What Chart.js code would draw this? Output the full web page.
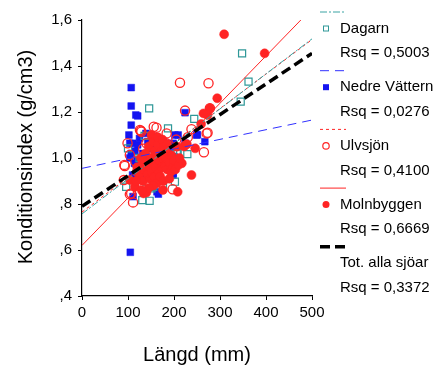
<!DOCTYPE html>
<html>
<head>
<meta charset="utf-8">
<script src="https://cdn.jsdelivr.net/npm/chart.js@4"></script>
<style>
  body { margin: 0; background: #fff; }
  canvas { display: block; }
</style>
</head>
<body>
<canvas id="chart" width="436" height="367"></canvas>
<script>
// Längd (mm) och konditionsindex per sjö
const dagarn = [
  [348, 1.455], [362, 1.332], [345, 1.245], [244, 1.170], [146, 1.216], [187, 1.129],
  [208, 1.02], [229, 1.017], [131, 0.817], [147, 0.814], [100, 1.042], [136, 1.096],
  [176, 0.883], [155, 0.875], [202, 0.897], [198, 1.02], [140, 0.897], [151, 0.868],
  [96, 0.875], [206, 1.02], [160, 0.93], [170, 0.96], [125, 1.0], [185, 0.99]
];
const nedreVattern = [
  [107, 1.306], [107, 1.226], [117, 1.187], [121, 1.183], [107, 1.143], [102, 1.10],
  [104, 1.064], [105, 0.59], [224, 1.197], [251, 1.101], [267, 1.071], [202, 1.10],
  [200, 1.006], [198, 0.926], [166, 0.843], [111, 0.832], [182, 1.064], [158, 1.093],
  [110, 1.064], [107, 1.02], [114, 0.977], [110, 0.926], [121, 1.057], [143, 1.071],
  [139, 1.107], [132, 1.02], [179, 0.97], [163, 0.853], [198, 1.064], [209, 1.10],
  [249, 1.10], [224, 1.064], [198, 0.933], [120, 0.99], [150, 1.04], [130, 0.95],
  [115, 1.03], [125, 1.085], [145, 1.0], [165, 1.02], [190, 1.04], [118, 0.905],
  [104, 1.0], [135, 0.93]
];
const ulvsjon = [
  [213, 1.327], [275, 1.325], [224, 1.206], [273, 1.110], [265, 1.025], [197, 0.864],
  [111, 0.807], [104, 0.842], [91, 0.904], [93, 0.965], [104, 1.013], [126, 1.122],
  [156, 1.136], [162, 1.132], [238, 1.125], [140, 1.064], [144, 0.897], [184, 1.107],
  [271, 1.107], [278, 1.216], [129, 1.114], [128, 1.119], [99, 1.064], [92, 0.970],
  [107, 0.846], [183, 1.064], [139, 0.919], [116, 0.985], [150, 1.05], [170, 1.04],
  [133, 1.04], [160, 0.96], [120, 0.94], [145, 0.97], [175, 0.99], [205, 1.08], [230, 1.09]
];
const molnbyggen = [
  [309, 1.538], [397, 1.455], [294, 1.26], [278, 1.216], [273, 1.187], [259, 1.148],
  [264, 1.194], [246, 1.042], [238, 0.926], [217, 0.977], [208, 0.853], [176, 0.861],
  [134, 0.846], [140, 0.85], [115, 0.875], [104, 0.904], [206, 1.049], [151, 1.10],
  [222, 1.05], [228, 1.06], [120, 0.96], [125, 0.93], [128, 1.0], [130, 0.97],
  [133, 0.9], [135, 0.95], [138, 1.02], [140, 0.98], [142, 0.93], [145, 1.05],
  [147, 0.96], [148, 0.91], [150, 1.0], [152, 0.94], [155, 1.07], [155, 0.98],
  [157, 0.92], [158, 1.03], [160, 0.96], [162, 1.0], [163, 0.89], [165, 1.06],
  [166, 0.94], [168, 0.99], [170, 0.92], [172, 1.03], [173, 0.96], [175, 1.0],
  [177, 0.9], [178, 1.05], [180, 0.97], [182, 1.0], [185, 0.95], [187, 1.02],
  [190, 0.98], [193, 0.94], [195, 1.01], [198, 0.96], [200, 0.99], [203, 0.95],
  [155, 0.88], [145, 0.87], [130, 0.86], [165, 1.09], [175, 1.08], [185, 1.06],
  [118, 0.9], [190, 0.91], [210, 0.97], [212, 1.0]
];

// regressionslinjer (start- och slutpunkt)
const dagarnFit = [[0, 0.757], [500, 1.518]];
const vatternFit = [[0, 0.955], [500, 1.165]];
const ulvsjonFit = [[0, 0.765], [500, 1.515]];
const molnbyggenFit = [[0, 0.62], [500, 1.65]];
const totalFit = [[0, 0.79], [500, 1.455]];

const seriesNames = ["Dagarn", "Nedre Vättern", "Ulvsjön", "Molnbyggen", "Tot. alla sjöar"];
const rsqValues = ["0,5003", "0,0276", "0,4100", "0,6669", "0,3372"];

const xTicks = [0, 100, 200, 300, 400, 500];
const yTicks = [0.4, 0.6, 0.8, 1.0, 1.2, 1.4, 1.6];
const yTitle = "Konditionsindex (g/cm3)";

const RED = "#ff2424";
const BLUE = "#1414f0";
const TEAL = "#2f9898";
const FONT = "'Liberation Sans', Arial, sans-serif";

const toXY = (arr) => arr.map(([x, y]) => ({ x: x, y: y }));

// stilar för linjer och markörer, samma i diagram och förklaring
const lineStyles = [
  { color: "#3aa3a3", width: 1, dash: [7, 2, 2, 2] },
  { color: "#3030ff", width: 1, dash: [9, 6] },
  { color: RED, width: 1, dash: [3, 3] },
  { color: RED, width: 1, dash: [] },
  { color: "#000", width: 3.5, dash: [10, 5] },
];

function fitDataset(data, style, order) {
  return {
    data: toXY(data),
    showLine: true,
    pointRadius: 0,
    borderColor: style.color,
    borderWidth: style.width,
    borderDash: style.dash,
    fill: false,
    order: order,
  };
}

// y-axelns rubrik och förklaringen ritas för hand
const sideLegend = {
  id: "sideLegend",
  afterDraw(chart) {
    const ctx = chart.ctx;
    ctx.save();

    ctx.save();
    ctx.translate(26, 157);
    ctx.rotate(-Math.PI / 2);
    ctx.fillStyle = "#000";
    ctx.font = "20px " + FONT;
    ctx.textAlign = "center";
    ctx.textBaseline = "middle";
    ctx.fillText(yTitle, 0, 0);
    ctx.restore();

    for (let i = 0; i < seriesNames.length; i++) {
      const y0 = 12 + i * 58.7;
      const st = lineStyles[i];
      ctx.beginPath();
      ctx.strokeStyle = st.color;
      ctx.lineWidth = st.width;
      ctx.setLineDash(st.dash);
      ctx.moveTo(320, y0);
      ctx.lineTo(346, y0);
      ctx.stroke();
      ctx.setLineDash([]);

      const my = y0 + 16.5;
      if (i === 0) {
        ctx.strokeStyle = TEAL;
        ctx.lineWidth = 1;
        ctx.strokeRect(323.5, my - 2.5, 5, 5);
      } else if (i === 1) {
        ctx.fillStyle = BLUE;
        ctx.fillRect(323, my - 3, 6, 6);
      } else if (i === 2) {
        ctx.strokeStyle = RED;
        ctx.lineWidth = 1.2;
        ctx.beginPath();
        ctx.arc(326, my, 3.2, 0, Math.PI * 2);
        ctx.stroke();
      } else if (i === 3) {
        ctx.fillStyle = RED;
        ctx.beginPath();
        ctx.arc(326, my, 3.5, 0, Math.PI * 2);
        ctx.fill();
      }

      ctx.fillStyle = "#000";
      ctx.font = "15px " + FONT;
      ctx.textAlign = "left";
      ctx.textBaseline = "middle";
      ctx.fillText(seriesNames[i], 340, my);
      ctx.fillText("Rsq = " + rsqValues[i], 340, y0 + 41);
    }
    ctx.restore();
  },
};

const ctx = document.getElementById("chart").getContext("2d");
new Chart(ctx, {
  type: "scatter",
  data: {
    datasets: [
      fitDataset(totalFit, lineStyles[4], 0),
      fitDataset(molnbyggenFit, lineStyles[3], 1),
      fitDataset(ulvsjonFit, lineStyles[2], 3),
      fitDataset(dagarnFit, lineStyles[0], 2),
      fitDataset(vatternFit, lineStyles[1], 4),
      {
        data: toXY(molnbyggen),
        pointStyle: "circle",
        pointRadius: 4.5,
        backgroundColor: RED,
        borderColor: RED,
        borderWidth: 0.5,
        order: 5,
      },
      {
        data: toXY(ulvsjon),
        pointStyle: "circle",
        pointRadius: 4.6,
        backgroundColor: "rgba(255,255,255,0)",
        borderColor: RED,
        borderWidth: 1.3,
        order: 6,
      },
      {
        data: toXY(dagarn),
        pointStyle: "rect",
        pointRadius: 5,
        backgroundColor: "rgba(255,255,255,0)",
        borderColor: TEAL,
        borderWidth: 1.2,
        order: 7,
      },
      {
        data: toXY(nedreVattern),
        pointStyle: "rect",
        pointRadius: 4.8,
        backgroundColor: BLUE,
        borderColor: BLUE,
        borderWidth: 0.5,
        order: 8,
      },
    ],
  },
  options: {
    responsive: false,
    animation: false,
    devicePixelRatio: 1,
    layout: { padding: { left: 0, top: 20, right: 124, bottom: 0 } },
    plugins: {
      legend: { display: false },
      tooltip: { enabled: false },
    },
    scales: {
      x: {
        type: "linear",
        min: 0,
        max: 500,
        afterFit: (s) => { s.height = 71; },
        afterBuildTicks: (s) => { s.ticks = xTicks.map((v) => ({ value: v })); },
        grid: { display: true, drawOnChartArea: false, drawTicks: true, tickLength: 4, color: "#000" },
        border: { display: true, color: "#000", width: 1.2 },
        ticks: {
          color: "#000",
          padding: 4,
          maxRotation: 0,
          font: { family: FONT, size: 15 },
        },
        title: {
          display: true,
          text: "Längd (mm)",
          color: "#000",
          padding: { top: 0, bottom: 0 },
          font: { family: FONT, size: 20 },
        },
      },
      y: {
        type: "linear",
        min: 0.4,
        max: 1.6,
        afterFit: (s) => { s.width = 82; },
        afterBuildTicks: (s) => { s.ticks = yTicks.map((v) => ({ value: v })); },
        grid: { display: true, drawOnChartArea: false, drawTicks: true, tickLength: 4, color: "#000" },
        border: { display: true, color: "#000", width: 1.2 },
        ticks: {
          color: "#000",
          padding: 6,
          font: { family: FONT, size: 15 },
          callback: (v) => v.toFixed(1).replace(".", ",").replace(/^0/, ""),
        },
      },
    },
  },
  plugins: [sideLegend],
});
</script>
</body>
</html>
